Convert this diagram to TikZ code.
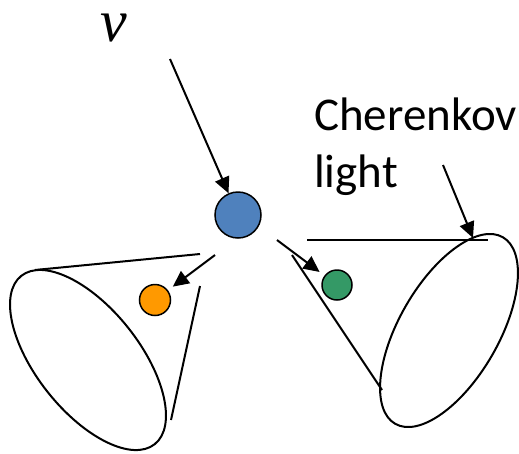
\documentclass[tikz,border=0pt]{standalone}
\usepackage{fontspec}
\setmainfont{Carlito}
\newfontfamily\grkfont{Liberation Serif}
\usetikzlibrary{arrows.meta}
\definecolor{bluep}{RGB}{79,129,189}
\definecolor{orangep}{RGB}{255,153,0}
\definecolor{greenp}{RGB}{52,153,102}
\tikzset{
  particle/.style={circle, draw=black, line width=1.5pt, inner sep=0pt},
  arr/.style={line width=2pt, -{Triangle[length=16pt,width=15pt]}},
  edge/.style={line width=2pt},
}
\begin{document}
\begin{tikzpicture}[x=1pt,y=-1pt]
\useasboundingbox (0,0) rectangle (519,453);
% particles
\node[particle, fill=bluep, minimum size=46pt] (nu) at (238,215) {};
\node[particle, fill=orangep, minimum size=31pt] (or) at (155,300) {};
\node[particle, fill=greenp, minimum size=30pt] (gr) at (337,285) {};
% labels
\node[anchor=base, font=\grkfont\itshape\fontsize{60}{60}\selectfont, inner sep=0pt] (nulab) at (114,41) {ν};
\node[anchor=base west, align=left, font=\fontsize{47}{57}\selectfont, inner sep=0pt] (ck) at (314,187) {Cherenkov\\light};
% left cone
\draw[edge, rotate around={-51.6:(88,360)}] (88,360) ellipse [x radius=107.4, y radius=51.5];
\draw[edge] (35,270) -- (200,254);
\draw[edge] (200,286) -- (171,420);
% right cone
\draw[edge, rotate around={60:(449,330.5)}] (449,330.5) ellipse [x radius=107.7, y radius=49.7];
\draw[edge] (307,240) -- (488,240);
\draw[edge] (292,255) -- (382,390);
% arrows
\coordinate (t0) at (170,59);
\coordinate (t1) at (215,255);
\coordinate (t2) at (277,240);
\coordinate (t3) at (443,165);
\coordinate (cl) at (473,238);
\draw[arr] (t0) -- (nu);
\draw[arr, shorten >=6pt] (t1) -- (or);
\draw[arr, shorten >=6pt] (t2) -- (gr);
\draw[arr] (t3) -- (cl);
\end{tikzpicture}
\end{document}
